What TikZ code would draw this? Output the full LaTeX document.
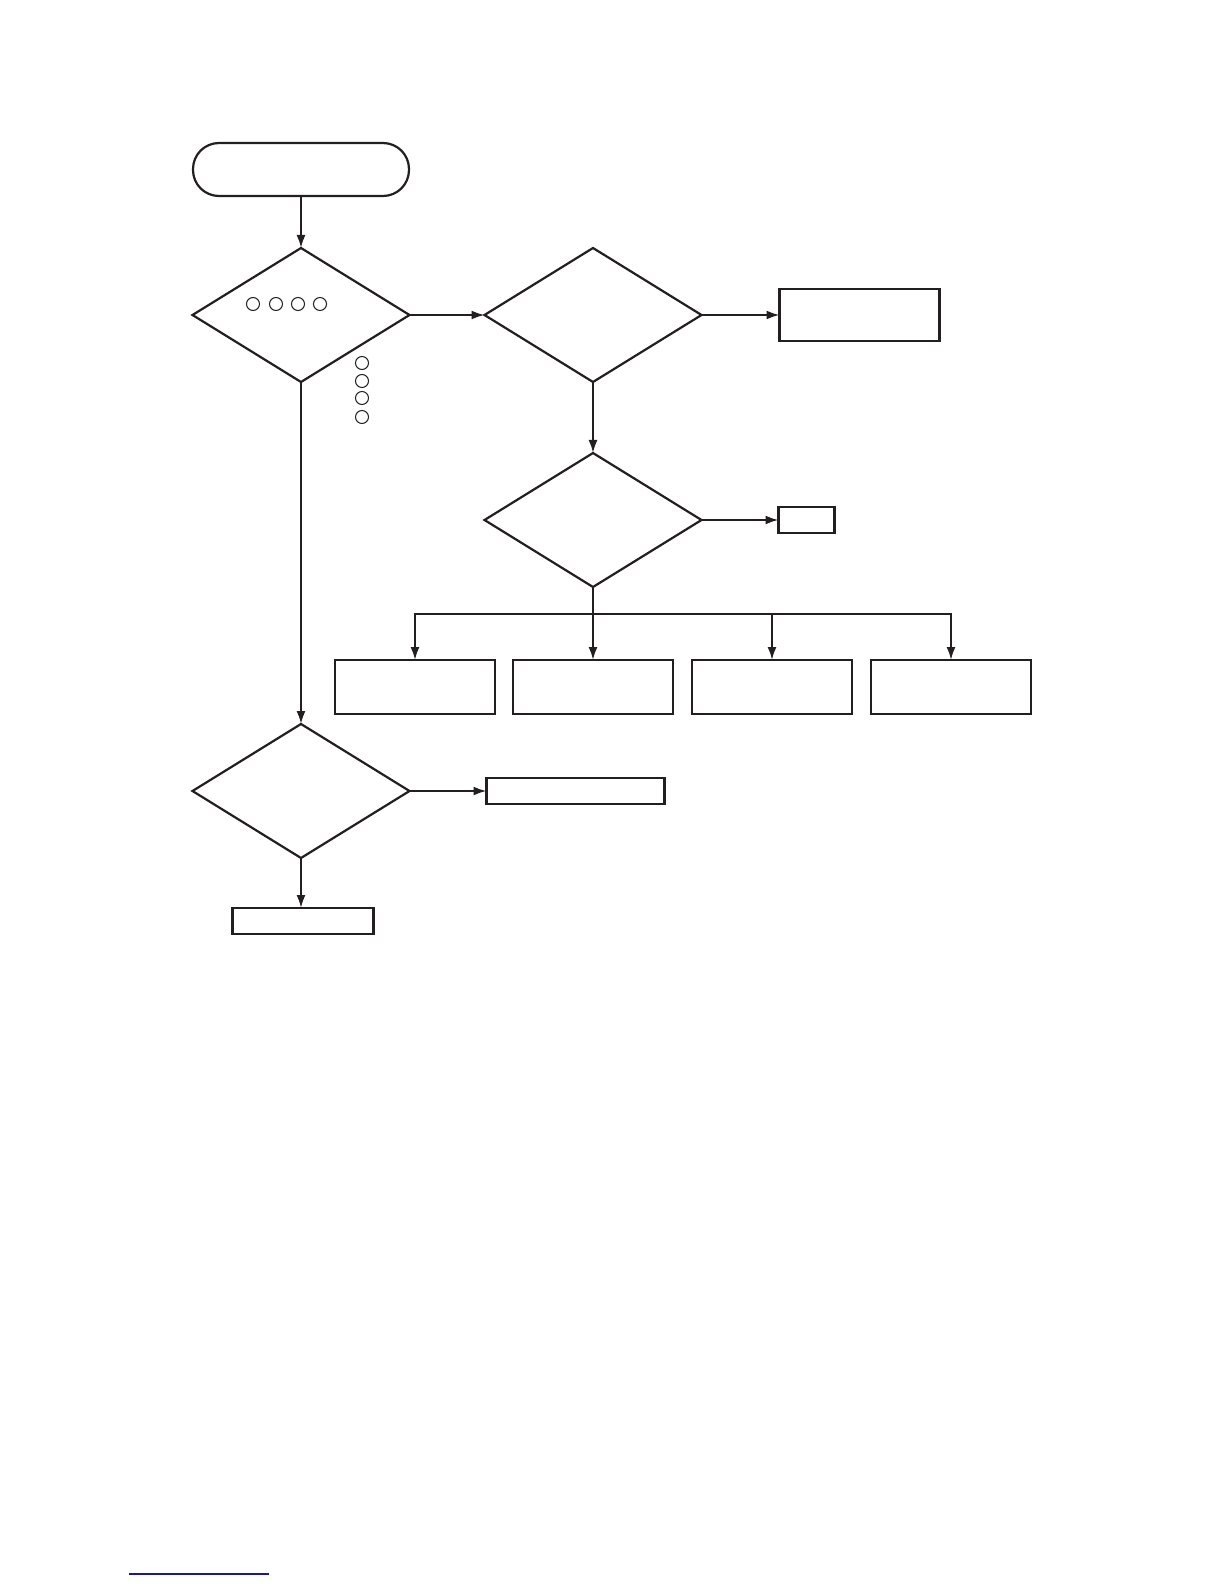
\documentclass[tikz,border=0pt]{standalone}
\usepackage{tikz}
\usepackage{xcolor}
\usetikzlibrary{arrows.meta,positioning,shapes.geometric,calc}
\definecolor{flowink}{RGB}{35,31,32}
\definecolor{linkblue}{RGB}{25,25,150}

\begin{document}
\begin{tikzpicture}[x=0.5pt, y=-0.5pt,
        term/.style={rectangle,rounded corners=13pt,draw=flowink,line width=1.1pt,
          minimum width=108pt,minimum height=26.5pt,inner sep=0pt,outer sep=0pt},
        decide/.style={diamond,draw=flowink,line width=1.1pt,
          minimum width=108.5pt,minimum height=67pt,inner sep=0pt,outer sep=0pt},
        box/.style={rectangle,draw=flowink,line width=1.1pt,
          minimum width=80pt,minimum height=26pt,inner sep=0pt,outer sep=0pt},
        dot/.style={circle,draw=flowink,line width=0.5pt,minimum size=6.5pt,inner sep=0pt},
        arrow/.style={-{Latex[length=6.5pt,width=4.5pt]},draw=flowink,line width=1pt},
        wire/.style={draw=flowink,line width=1pt,line cap=rect},
        linkline/.style={draw=linkblue,line width=0.6pt}]
        \useasboundingbox (0,0) rectangle (1224,1584);
        \node[term] (start) at (301,169.5) {};
        \node[decide,below=26pt of start] (d1) {};
        \node[decide,right=37.5pt of d1] (d2) {};
        \node[box,right=39pt of d2] (r1) {};
        \node[decide,below=35.5pt of d2] (d3) {};
        \node[box,minimum width=28pt,minimum height=13pt,right=38.5pt of d3] (r2) {};
        \node[box,minimum height=27pt,below=36.5pt of d3] (b2) {};
        \node[box,minimum height=27pt,left=9pt of b2] (b1) {};
        \node[box,minimum height=27pt,right=9.5pt of b2] (b3) {};
        \node[box,minimum height=27pt,right=9.5pt of b3] (b4) {};
        \node[decide,below=171pt of d1] (d4) {};
        \node[box,minimum width=89pt,minimum height=13pt,right=38.5pt of d4] (r4) {};
        \node[box,minimum width=70.5pt,minimum height=13pt,below=25pt of d4,xshift=1pt] (r5) {};
        % small marks next to the first decision
        \foreach \dx [count=\i] in {-48,-25,-3,19}
          \node[dot] (h\i) at ($(d1)+(\dx,-11)$) {};
        \foreach \dy [count=\i] in {48,66,83,102}
          \node[dot] (v\i) at ($(d1)+(61,\dy)$) {};
        \draw[arrow] (start) -- (d1);
        \draw[arrow] (d1) -- (d2);
        \draw[arrow] (d2.east) -- (d2.east -| r1.west);
        \draw[arrow] (d2) -- (d3);
        \draw[arrow] (d3) -- (r2);
        \coordinate[below=13.5pt of d3.south] (bus);
        \draw[wire] (d3.south) -- (bus);
        \draw[wire] (b1 |- bus) -- (b4 |- bus);
        \foreach \b in {b1,b2,b3,b4}
          \draw[arrow] (\b |- bus) -- (\b.north);
        \draw[arrow] (d1) -- (d4);
        \draw[arrow] (d4) -- (r4);
        \draw[arrow] (d4) -- (d4 |- r5.north);
        \coordinate (ul1) at (129,1574);
        \coordinate (ul2) at (269,1574);
        \draw[linkline] (ul1) -- (ul2);
      \end{tikzpicture}
\end{document}
